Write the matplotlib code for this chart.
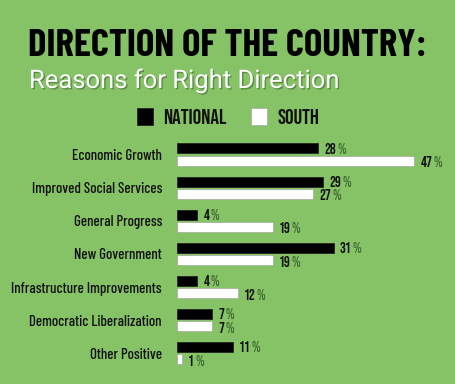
import matplotlib
matplotlib.use("Agg")
import matplotlib.pyplot as plt
import matplotlib.patheffects as pe
import numpy as np

categories = ["Economic Growth", "Improved Social Services", "General Progress",
              "New Government", "Infrastructure Improvements",
              "Democratic Liberalization", "Other Positive"]
national = [28, 29, 4, 31, 4, 7, 11]
south = [47, 27, 19, 19, 12, 7, 1]
series_names = ["NATIONAL", "SOUTH"]
title = "DIRECTION OF THE COUNTRY:"
subtitle = "Reasons for Right Direction"

TITLE_FONT = ["Barlow Condensed", "DejaVu Sans"]
SUB_FONT = ["Roboto", "DejaVu Sans"]
BODY_FONT = ["Barlow Condensed", "DejaVu Sans"]
NUM_FONT = ["Bebas Neue", "DejaVu Sans"]

BG = "#86c266"
PCT = "#436f35"

W, H = 456, 384
fig = plt.figure(figsize=(W / 100, H / 100), dpi=100)
fig.patch.set_facecolor(BG)
fig.canvas.draw()
r = fig.canvas.get_renderer()


def fit_size(text, family, target_px, weight="normal", base=10.0):
    t = fig.text(0, 0, text, family=family, fontsize=base, fontweight=weight)
    w = t.get_window_extent(renderer=r).width
    t.remove()
    return base * target_px / w


left_px, right_px = 177, 456
top_px, bot_px = 130, 378
ax = fig.add_axes([left_px / W, 1 - bot_px / H, (right_px - left_px) / W, (bot_px - top_px) / H])
ax.set_facecolor("none")
px_per_unit = 5.05
ax.set_xlim(0, (right_px - left_px) / px_per_unit)
step = 33.1
ax.set_ylim((bot_px - 154.6) / step, -(154.6 - top_px) / step)

y = np.arange(len(categories))
h = 10 / step
off = 6.2 / step
b1 = ax.barh(y - off, national, height=h, color="black", edgecolor="#1a1a1a", linewidth=0.5, label=series_names[0])
b2 = ax.barh(y + off, south, height=h, color="white", edgecolor="#9a9a9a", linewidth=0.4, label=series_names[1])

for s in ax.spines.values():
    s.set_visible(False)
ax.set_xticks([])
ax.set_yticks(y)
lab_size = min(11.5, fit_size("Infrastructure Improvements", BODY_FONT, 151, weight="medium"))
ax.set_yticklabels(categories, family=BODY_FONT, fontweight="medium", fontsize=lab_size, color="#111111")
ax.tick_params(axis="y", length=0, pad=10.8)


def value_label(xv, yv):
    t = ax.annotate(f"{xv}", (xv, yv), xytext=(4.5, 0), textcoords="offset points",
                    ha="left", va="center", family=NUM_FONT,
                    fontsize=10.5, color="#111111")
    bb = t.get_window_extent(renderer=r)
    w_pts = bb.width * 72 / fig.dpi
    ax.annotate("%", (xv, yv), xytext=(4.5 + w_pts + 0.6, 0), textcoords="offset points",
                ha="left", va="center", family=NUM_FONT,
                fontsize=10.5, color=PCT)


for i in range(len(categories)):
    value_label(national[i], y[i] - off)
    value_label(south[i], y[i] + off + 0.03)

ts = fit_size(title, TITLE_FONT, 400, weight="bold")
fig.text(28 / W, 1 - 55.5 / H, title, family=TITLE_FONT, fontweight="bold",
         fontsize=ts, color="black", ha="left", va="baseline")
ss = fit_size(subtitle, SUB_FONT, 311)
fig.text(29 / W, 1 - 88 / H, subtitle, family=SUB_FONT,
         fontsize=ss, color="white", ha="left", va="baseline",
         path_effects=[pe.withSimplePatchShadow(offset=(1, -1), shadow_rgbFace="#2a4a20", alpha=0.45)])

ls = fit_size("NATIONAL", NUM_FONT, 64)
leg = fig.legend(handles=[b1, b2], labels=series_names, loc="center",
                 bbox_to_anchor=(228 / W, 1 - 116.5 / H), ncol=2, frameon=False,
                 handlelength=11.5 / ls, handleheight=12.2 / ls, handletextpad=7.2 / ls,
                 columnspacing=18 / ls, borderpad=0, borderaxespad=0,
                 prop={"family": NUM_FONT, "size": ls})
for t in leg.get_texts():
    t.set_color("#111111")

fig.savefig("out.png", dpi=100, facecolor=BG)
